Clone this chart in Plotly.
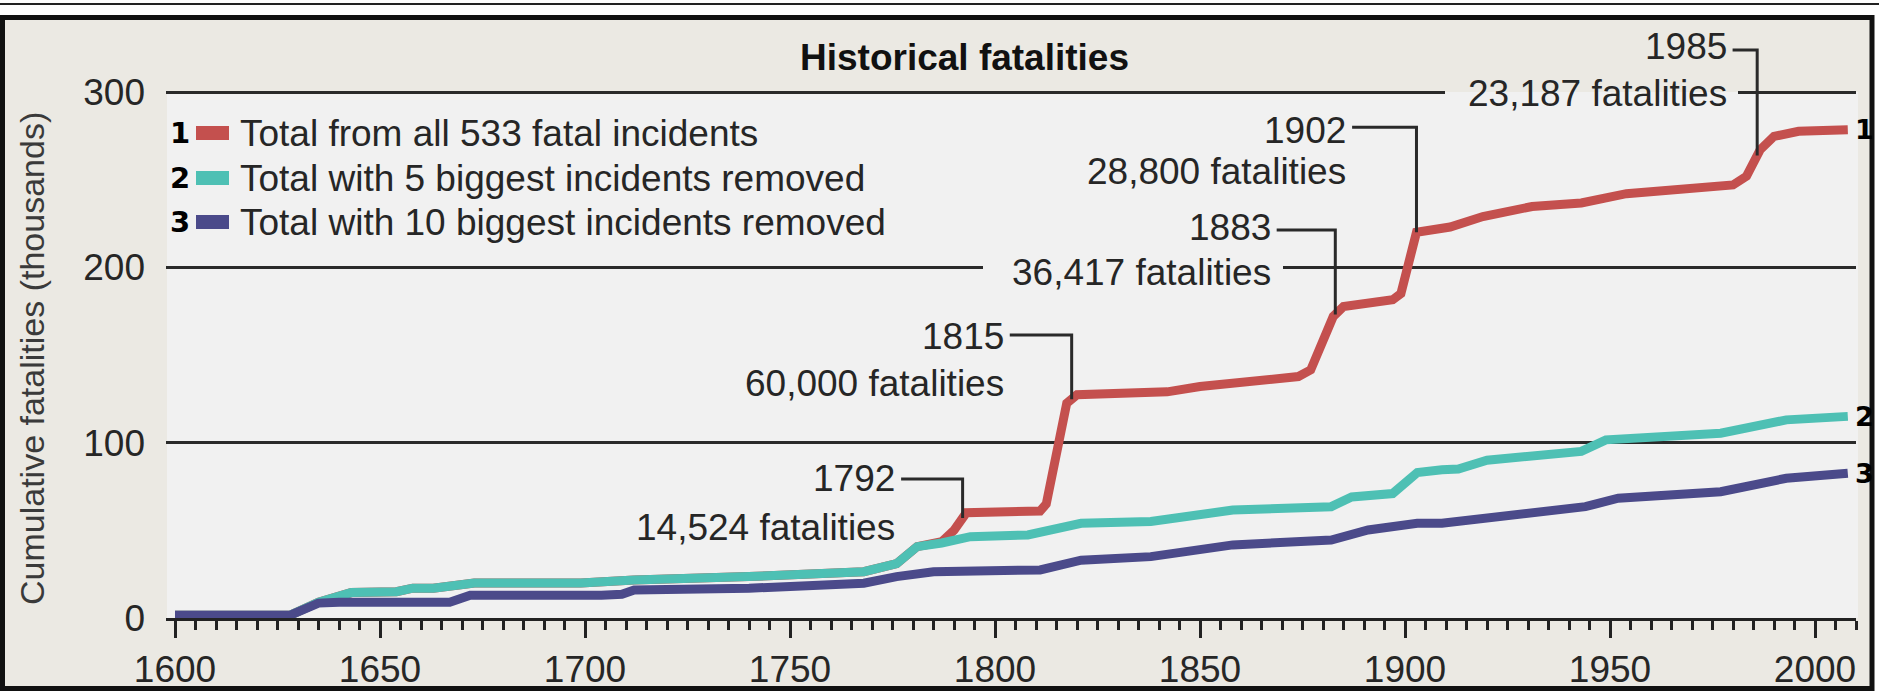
import numpy as np
import plotly.graph_objects as go

# cumulative fatalities (thousands)
all_years = [1600, 1628, 1635, 1643, 1654, 1658, 1663, 1673, 1699, 1709, 1712, 1740, 1768,
             1776, 1781, 1787, 1790, 1793, 1809, 1811, 1812.5, 1817.5, 1820, 1842, 1850,
             1858, 1874, 1877, 1882.5, 1885, 1897, 1899, 1902.8, 1911, 1919, 1931, 1943,
             1954, 1980, 1983.3, 1986.6, 1990, 1996, 2008]
all_vals = [1.5, 1.5, 9, 14.5, 15, 17, 17, 20, 20, 20.5, 21.7, 23.6, 26.4,
            31, 40.7, 43.5, 50, 60, 60.7, 61, 65, 122.5, 127.3, 129, 132,
            133.5, 137.7, 141.5, 172, 177.7, 181.5, 185, 220, 223, 229, 234.7, 236.7,
            242, 247, 252, 267, 274.7, 277.6, 278.5]

top5_years = [1600, 1628, 1635, 1643, 1654, 1658, 1663, 1673, 1699, 1709, 1712, 1740, 1768,
              1776, 1781, 1787, 1794, 1808, 1821, 1838, 1858, 1882, 1887, 1897, 1903,
              1909, 1913, 1920, 1943, 1949, 1977, 1993, 2008]
top5_vals = [1.5, 1.5, 9, 14.5, 15, 17, 17, 20, 20, 20.5, 21.7, 23.6, 26.4,
             31, 40.7, 42.8, 46.4, 47.4, 54, 55, 61.6, 63.5, 69, 71, 83,
             84.5, 85, 90, 95, 101.6, 105.4, 113, 115]

top10_years = [1600, 1628, 1635, 1640, 1667, 1672, 1704, 1709, 1712, 1740, 1768, 1776, 1785,
               1809, 1811, 1821, 1838, 1858, 1882, 1891, 1903, 1909, 1921, 1944, 1952,
               1977, 1993, 2008]
top10_vals = [1.5, 1.5, 8.5, 9, 9, 13, 13, 13.5, 16, 17, 19.8, 23.6, 26.4,
              27, 27.4, 33, 35, 41.7, 44.5, 50.2, 54, 54, 57, 63.5, 68.3,
              72, 79.7, 82.6]

series_names = ["Total from all 533 fatal incidents",
                "Total with 5 biggest incidents removed",
                "Total with 10 biggest incidents removed"]
series_colors = ["#C4504E", "#4EC0B4", "#4B4A8A"]

event_years = ["1792", "1815", "1883", "1902", "1985"]
event_deaths = ["14,524", "60,000", "36,417", "28,800", "23,187"]

x_ticks = list(range(1600, 2001, 50))
y_ticks = [0, 100, 200, 300]

# callout layout (data units): leader x, leader top, label right edge, label heights
leader_x = [1792.1, 1818.7, 1883.0, 1902.8, 1985.9]
leader_top = [79.3, 161.4, 221.3, 279.9, 324.0]
label_right = [1776.2, 1802.7, 1867.8, 1886.2, 1979.0]
year_y = [79.8, 160.3, 223.0, 278.3, 325.9]
deaths_y = [51.9, 134.0, 197.3, 254.4, 299.4]

W_, H_ = 1879, 693
L, R, T, B = 166, 23, 20, 75
PW, PH = W_ - L - R, H_ - T - B


def px(x):
    return (x - L) / PW


def py(y):
    return (H_ - B - y) / PH


TXT = "#262626"
FONT = "Liberation Sans, Arial, sans-serif"
BEIGE = "#EBE9E3"
LIGHT = "#F1F1F1"

fig = go.Figure()
series = [(all_years, all_vals), (top5_years, top5_vals), (top10_years, top10_vals)]
for (xs, ys), name, col in zip(series, series_names, series_colors):
    fig.add_trace(go.Scatter(x=xs, y=ys, mode="lines", name=name,
                             line=dict(color=col, width=9), showlegend=False))

shapes = []
# outer frame
shapes.append(dict(type="rect", xref="paper", yref="paper", layer="below",
                   x0=px(2.5), x1=px(1872), y0=py(688.5), y1=py(17.5),
                   fillcolor=BEIGE, line=dict(color="#111", width=5)))
shapes.append(dict(type="line", xref="paper", yref="paper", layer="below",
                   x0=px(0), x1=px(1879), y0=py(4), y1=py(4),
                   line=dict(color="#222", width=2)))
# light plotting panel
shapes.append(dict(type="rect", xref="paper", yref="y", layer="below",
                   x0=px(167), x1=px(1858), y0=0, y1=300,
                   fillcolor=LIGHT, line=dict(width=0)))
# gaps in gridlines behind the on-line labels
shapes.append(dict(type="rect", xref="paper", yref="y", layer="above",
                   x0=px(983), x1=px(1283), y0=198.8, y1=201.2,
                   fillcolor=LIGHT, line=dict(width=0)))
shapes.append(dict(type="rect", xref="paper", yref="y", layer="above",
                   x0=px(1445), x1=px(1738), y0=298.8, y1=300,
                   fillcolor=LIGHT, line=dict(width=0)))
shapes.append(dict(type="rect", xref="paper", yref="y", layer="above",
                   x0=px(1445), x1=px(1738), y0=300, y1=301.2,
                   fillcolor=BEIGE, line=dict(width=0)))

annotations = []
# leaders + callout labels
for i in range(len(event_years)):
    ye = float(np.interp(leader_x[i], all_years, all_vals))
    x0 = label_right[i] + 0.9
    path = f"M {x0},{leader_top[i]} L {leader_x[i]},{leader_top[i]} L {leader_x[i]},{ye}"
    shapes.append(dict(type="path", xref="x", yref="y", layer="above", path=path,
                       line=dict(color="#2a2a2a", width=3)))
    annotations.append(dict(x=label_right[i], y=year_y[i], xref="x", yref="y",
                            text=event_years[i], showarrow=False, xanchor="right",
                            yanchor="middle", font=dict(size=37, color=TXT, family=FONT)))
    annotations.append(dict(x=label_right[i], y=deaths_y[i], xref="x", yref="y",
                            text=event_deaths[i] + " fatalities", showarrow=False,
                            xanchor="right", yanchor="middle",
                            font=dict(size=37, color=TXT, family=FONT)))

# legend drawn by hand
legend_rows = [133, 178, 222]
for i, (name, col) in enumerate(zip(series_names, series_colors)):
    yy = legend_rows[i]
    annotations.append(dict(x=px(180), y=py(yy), xref="paper", yref="paper",
                            text=f"<b>{i + 1}</b>", showarrow=False, xanchor="center",
                            yanchor="middle", font=dict(size=29, color="#000", family="DejaVu Sans")))
    shapes.append(dict(type="rect", xref="paper", yref="paper", layer="above",
                       x0=px(196), x1=px(229), y0=py(yy + 7), y1=py(yy - 7),
                       fillcolor=col, line=dict(width=0)))
    annotations.append(dict(x=px(238), y=py(yy), xref="paper", yref="paper",
                            text=name, showarrow=False, xanchor="left", yanchor="middle",
                            font=dict(size=37, color=TXT, family=FONT)))

# line end numbers
for i, (xs, ys) in enumerate(series):
    annotations.append(dict(x=xs[-1], y=ys[-1], xref="x", yref="y", text=f"<b>{i + 1}</b>",
                            showarrow=False, xanchor="left", yanchor="middle", xshift=5,
                            font=dict(size=27, color="#000", family="DejaVu Sans")))

# title and y-axis title
annotations.append(dict(x=px(964), y=py(58), xref="paper", yref="paper",
                        text="<b>Historical fatalities</b>", showarrow=False,
                        xanchor="center", yanchor="middle",
                        font=dict(size=37, color="#111", family=FONT)))
annotations.append(dict(x=px(32), y=py(359), xref="paper", yref="paper",
                        text="Cumulative fatalities (thousands)", showarrow=False,
                        textangle=-90, xanchor="center", yanchor="middle",
                        font=dict(size=34, color="#3a3a3a", family=FONT)))

fig.update_layout(
    width=W_, height=H_,
    margin=dict(l=L, r=R, t=T, b=B, autoexpand=False),
    paper_bgcolor="white", plot_bgcolor=BEIGE,
    shapes=shapes, annotations=annotations,
    font=dict(family=FONT, color=TXT, size=37),
    xaxis=dict(range=[1600 - 9 / 4.1, 1600 + 1681 / 4.1], tickvals=x_ticks,
               automargin=False,
               showgrid=False, zeroline=False, showline=True, linewidth=3, linecolor="#222",
               ticks="outside", ticklen=17, tickwidth=3, tickcolor="#222",
               minor=dict(dtick=5, tick0=1600, ticks="outside", ticklen=9, tickwidth=3,
                          tickcolor="#222", showgrid=False),
               tickfont=dict(size=37, color=TXT)),
    yaxis=dict(range=[0, PH / 1.7533], tickvals=y_ticks, showgrid=True,
               automargin=False,
               gridcolor="#2a2a2a", gridwidth=3, zeroline=False, ticks="",
               ticklabelstandoff=20, tickfont=dict(size=37, color=TXT)),
)

fig.write_html("out.html", config={"displayModeBar": False},
               post_script="document.body.style.margin = '0px';")
